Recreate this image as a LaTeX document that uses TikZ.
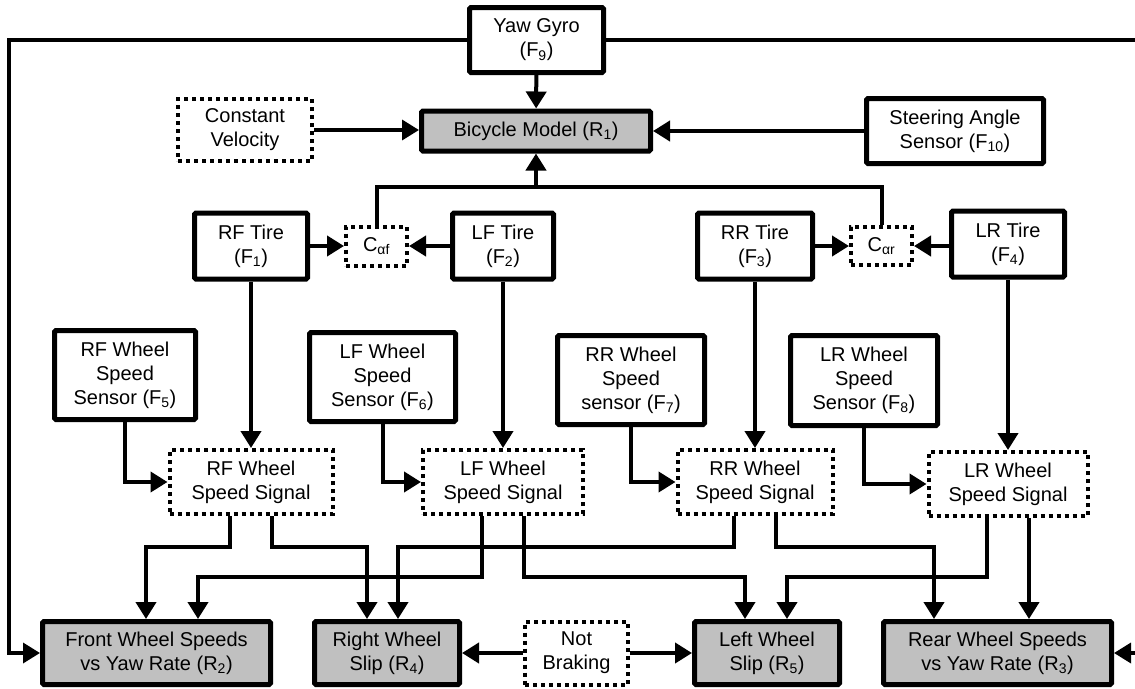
\documentclass[tikz,border=0pt]{standalone}
\usepackage{fontspec}
\setmainfont{Liberation Sans}
\usetikzlibrary{arrows.meta,calc}
\definecolor{resgray}{HTML}{C0C0C0}

\begin{document}
\begin{tikzpicture}[x=1pt,y=-1pt,
  font=\fontsize{20pt}{24pt}\selectfont,
  sz/.style 2 args={minimum width=#1pt,minimum height=#2pt},
  blockbox/.style={draw,line width=5pt,rounded corners=1.5pt,align=center,inner sep=0pt,fill=white},
  resultbox/.style={blockbox,fill=resgray},
  dotbox/.style={draw,line width=4pt,dash pattern=on 4pt off 4pt,align=center,inner sep=0pt,fill=white},
  wire/.style={line width=4pt,-{Triangle[width=20pt,length=17pt]}},
  thinwire/.style={wire,line width=3.5pt}]
  \useasboundingbox (0,0) rectangle (1135,688);
  \clip (0,0) rectangle (1135,688);

  % top row
  \node[blockbox,sz={134}{65}] (gyro) at (536.5,40) {Yaw Gyro\\(F\textsubscript{9})};
  \node[resultbox,sz={229}{40}] (bike) at (536,131) {Bicycle Model (R\textsubscript{1})};
  \node[dotbox,sz={134}{62}] (const) at (245,130) {Constant\\Velocity};
  \node[blockbox,sz={177}{65}] (steer) at (955,131) {Steering Angle\\Sensor (F\textsubscript{10})};

  % tires
  \node[blockbox,sz={113}{66}] (rftire) at (251,246) {RF Tire\\(F\textsubscript{1})};
  \node[dotbox,sz={61}{39}] (caf) at (376.5,246) {C\textsubscript{αf}};
  \node[blockbox,sz={101}{66}] (lftire) at (503,246) {LF Tire\\(F\textsubscript{2})};
  \node[blockbox,sz={115}{66}] (rrtire) at (755,246) {RR Tire\\(F\textsubscript{3})};
  \node[dotbox,sz={61}{38}] (car) at (881.5,246) {C\textsubscript{αr}};
  \node[blockbox,sz={113}{66}] (lrtire) at (1008,244) {LR Tire\\(F\textsubscript{4})};

  % wheel speed sensors
  \node[blockbox,sz={141}{89}] (rfsens) at (125,375) {RF Wheel\\Speed\\Sensor (F\textsubscript{5})};
  \node[blockbox,sz={146}{89}] (lfsens) at (382.5,377) {LF Wheel\\Speed\\Sensor (F\textsubscript{6})};
  \node[blockbox,sz={147}{89}] (rrsens) at (631,380) {RR Wheel\\Speed\\sensor (F\textsubscript{7})};
  \node[blockbox,sz={147}{90}] (lrsens) at (864,380.5) {LR Wheel\\Speed\\Sensor (F\textsubscript{8})};

  % wheel speed signals
  \node[dotbox,sz={163}{64}] (rfsig) at (251,482) {RF Wheel\\Speed Signal};
  \node[dotbox,sz={160}{64}] (lfsig) at (503,482) {LF Wheel\\Speed Signal};
  \node[dotbox,sz={155}{64}] (rrsig) at (755,482) {RR Wheel\\Speed Signal};
  \node[dotbox,sz={159}{64}] (lrsig) at (1008,484) {LR Wheel\\Speed Signal};

  % residuals
  \node[resultbox,sz={228}{63}] (front) at (156.5,653) {Front Wheel Speeds\\vs Yaw Rate (R\textsubscript{2})};
  \node[resultbox,sz={145}{63}] (rslip) at (387,653) {Right Wheel\\Slip (R\textsubscript{4})};
  \node[dotbox,sz={103}{63}] (notbrake) at (576.5,653) {Not\\Braking};
  \node[resultbox,sz={145}{63}] (lslip) at (767,653) {Left Wheel\\Slip (R\textsubscript{5})};
  \node[resultbox,sz={228}{63}] (rear) at (997.5,653) {Rear Wheel Speeds\\vs Yaw Rate (R\textsubscript{3})};

  % bends and levels
  \coordinate (loopL) at (9,40);
  \coordinate (loopR) at (1145,40);
  \coordinate (join) at (536,187);
  \coordinate (upper) at (0,547);
  \coordinate (lower) at (0,577);
  \foreach \s in {rfsig,lfsig,rrsig,lrsig}
  {
  \coordinate (\s L) at ([xshift=-21pt]\s.south);
  \coordinate (\s R) at ([xshift=21pt]\s.south);
  }
  \coordinate (frontA) at ([xshift=-10.5pt]front.north);
  \coordinate (frontB) at ([xshift=41.5pt]front.north);
  \coordinate (rslipA) at ([xshift=-20pt]rslip.north);
  \coordinate (rslipB) at ([xshift=11pt]rslip.north);
  \coordinate (lslipA) at ([xshift=-22pt]lslip.north);
  \coordinate (lslipB) at ([xshift=20pt]lslip.north);
  \coordinate (rearA) at ([xshift=-63.5pt]rear.north);

  % yaw gyro loop
  \draw[thinwire] (gyro.west) -- (loopL) |- (front.west);
  \draw[thinwire] (gyro.east) -- (loopR) |- (rear.east);

  % into the bicycle model
  \draw[wire] (gyro) -- (bike);
  \draw[thinwire] (const.east) -- (bike.west |- const.east);
  \draw[wire] (steer.west) -- (bike.east |- steer.west);
  \draw[line width=4pt] (caf.north) |- (join) -| (car.north);
  \draw[wire] (join) -- (bike.south);

  % tires
  \draw[wire] (rftire) -- (caf);
  \draw[wire] (lftire) -- (caf);
  \draw[wire] (rrtire) -- (car);
  \draw[wire] (lrtire.west |- car.east) -- (car);
  \foreach \t/\g in {rftire/rfsig,lftire/lfsig,rrtire/rrsig,lrtire/lrsig}
  {
  \draw[wire] (\t.south) -- (\t.south |- \g.north);
  }

  % sensors into signals
  \foreach \n/\g in {rfsens/rfsig,lfsens/lfsig,rrsens/rrsig,lrsens/lrsig}
  {
  \draw[wire] (\n.south) |- (\g.west);
  }

  % signals into residuals
  \foreach \a/\lvl/\b in {rfsigL/upper/frontA,rfsigR/upper/rslipA,rrsigL/upper/rslipB,rrsigR/upper/rearA,
                          lfsigL/lower/frontB,lfsigR/lower/lslipA,lrsigL/lower/lslipB}
  {
  \draw[wire] (\a) -- (\a |- \lvl) -| (\b);
  }
  \draw[wire] (lrsigR) -- (lrsigR |- rear.north);

  % not braking
  \draw[wire] (notbrake) -- (rslip);
  \draw[wire] (notbrake) -- (lslip);

\end{tikzpicture}
\end{document}
